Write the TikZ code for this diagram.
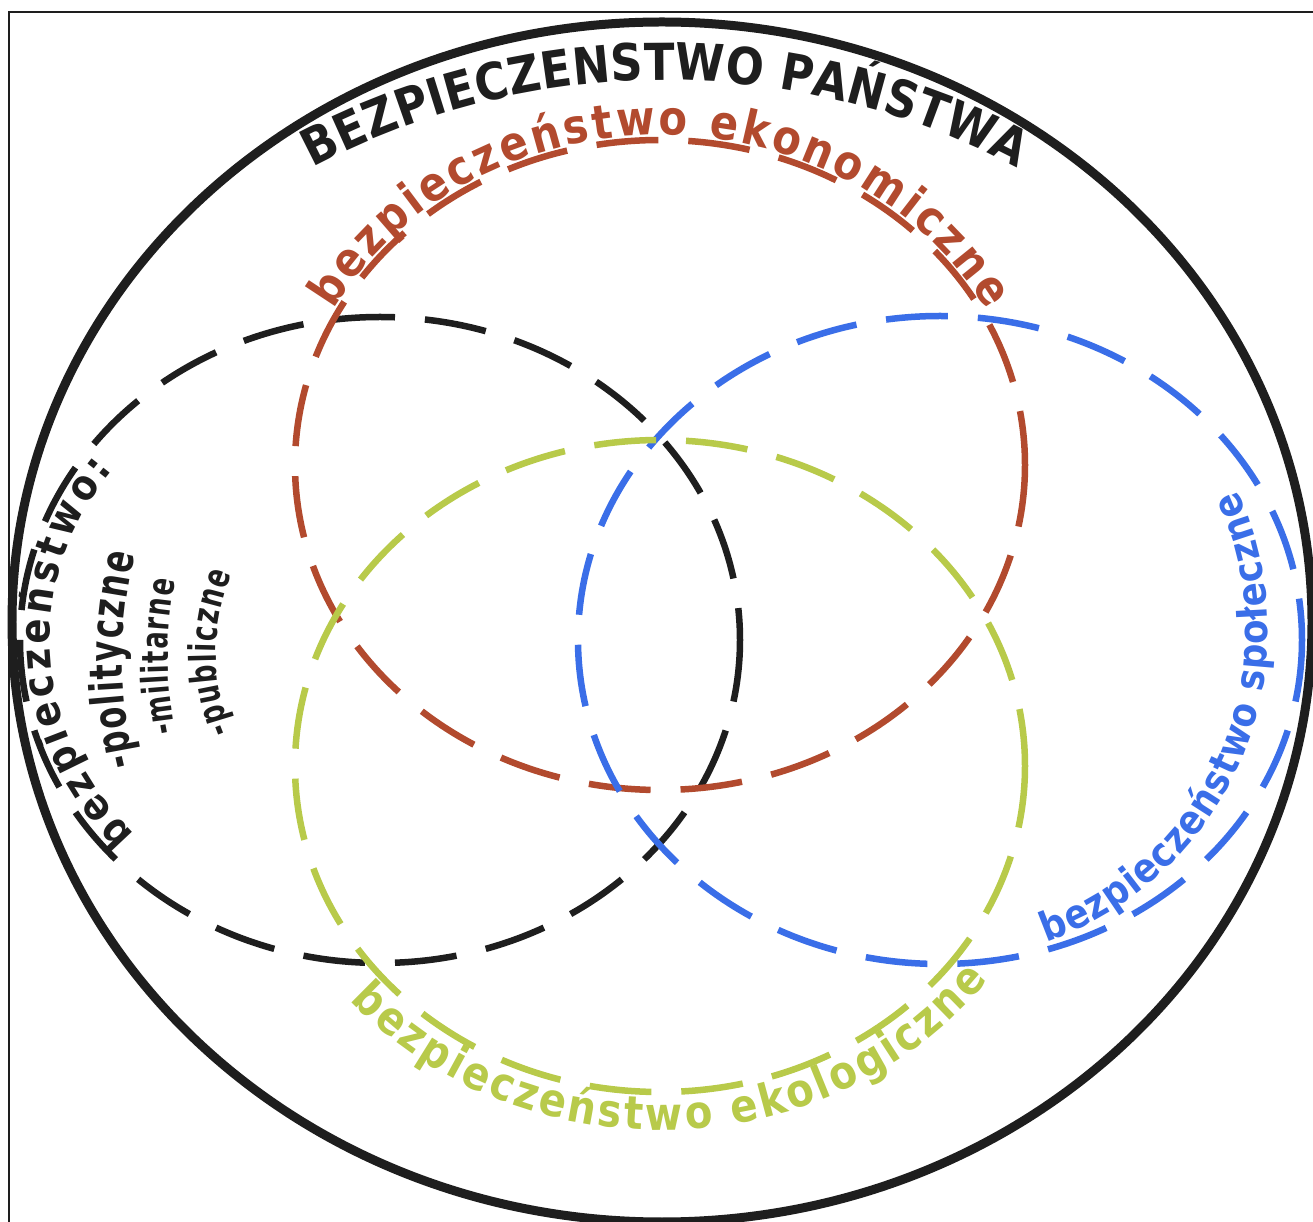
\documentclass[tikz,border=0pt]{standalone}
\usepackage{fontspec}
\setmainfont{DejaVu Sans}
\newfontfamily\heavyfont{DejaVu Sans}[FakeStretch=0.88]
\newfontfamily\narrowfont{DejaVu Sans}[FakeStretch=0.7]
\usetikzlibrary{decorations.text}
\definecolor{ekored}{HTML}{B24A2E}
\definecolor{ekogreen}{HTML}{B8CA4A}
\definecolor{ekoblue}{HTML}{3A6EE8}
\definecolor{ink}{HTML}{1E1E1E}
\begin{document}
\begin{tikzpicture}[x=0.02cm, y=-0.02cm,
  ring/.style={line width=0.13cm, dash pattern=on 1.24cm off 0.6cm},
  arctext/.style n args={3}{decorate, decoration={text along path, text align=fit to path,
      text color=#1, text={|\heavyfont\bfseries\fontsize{#2}{#2}\selectfont|#3}}},
  narrowtext/.style n args={3}{decorate, decoration={text along path, text align=fit to path,
      text color=#1, text={|\narrowfont\bfseries\fontsize{#2}{#2}\selectfont|#3}}}
]
\useasboundingbox (0,0) rectangle (1313,1222);
\fill[white] (0,0) rectangle (1313,1222);
% frame
\coordinate (fbl) at (9,1240);
\coordinate (ftl) at (9,12);
\coordinate (ftr) at (1330,12);
\draw[ink, line width=0.05cm] (fbl) -- (ftl) -- (ftr);
% outer ring
\draw[ink, line width=0.18cm] (662,622) ellipse [x radius=650, y radius=600];
% dashed ellipses
\draw[ring, ink] (380,640) ellipse [x radius=360, y radius=323];
\draw[ring, ekored] (660,465) ellipse [x radius=365, y radius=325];
\draw[ring, ekoblue] (940,640) ellipse [x radius=362, y radius=324];
\draw[ring, ekogreen] (660,766) ellipse [x radius=365, y radius=326];
% title
\path[arctext={ink}{29}{BEZPIECZENSTWO PAŃSTWA}]
  ([shift={(665,830)}]-118:750) arc[start angle=-118, end angle=-62, radius=750];
% red label
\path[arctext={ekored}{27}{bezpieczeństwo ekonomiczne}]
  ([shift={(660,465)}]-152:370 and 330) arc[start angle=-152, end angle=-28, x radius=370, y radius=330];
% green label
\path[arctext={ekogreen}{26}{bezpieczeństwo ekologiczne}]
  ([shift={(660,766)}]140:405 and 364) arc[start angle=140, end angle=36, x radius=405, y radius=364];
% blue label
\path[arctext={ekoblue}{23}{bezpieczeństwo społeczne}]
  ([shift={(940,630)}]71:328 and 330) arc[start angle=71, end angle=-25, x radius=328, y radius=330];
% left labels
\path[arctext={ink}{24}{bezpieczeństwo:}]
  ([shift={(380,640)}]138:330 and 290) arc[start angle=138, end angle=216, x radius=330, y radius=290];
\path[narrowtext={ink}{26}{-polityczne}]
  ([shift={(560,660)}]166:438) arc[start angle=166, end angle=194, radius=438];
\path[narrowtext={ink}{21}{-militarne}]
  ([shift={(560,656)}]168.7:392) arc[start angle=168.7, end angle=191.1, radius=392];
\path[narrowtext={ink}{21}{-publiczne}]
  ([shift={(418,653)}]157:202) arc[start angle=157, end angle=203, radius=202];
\end{tikzpicture}
\end{document}
